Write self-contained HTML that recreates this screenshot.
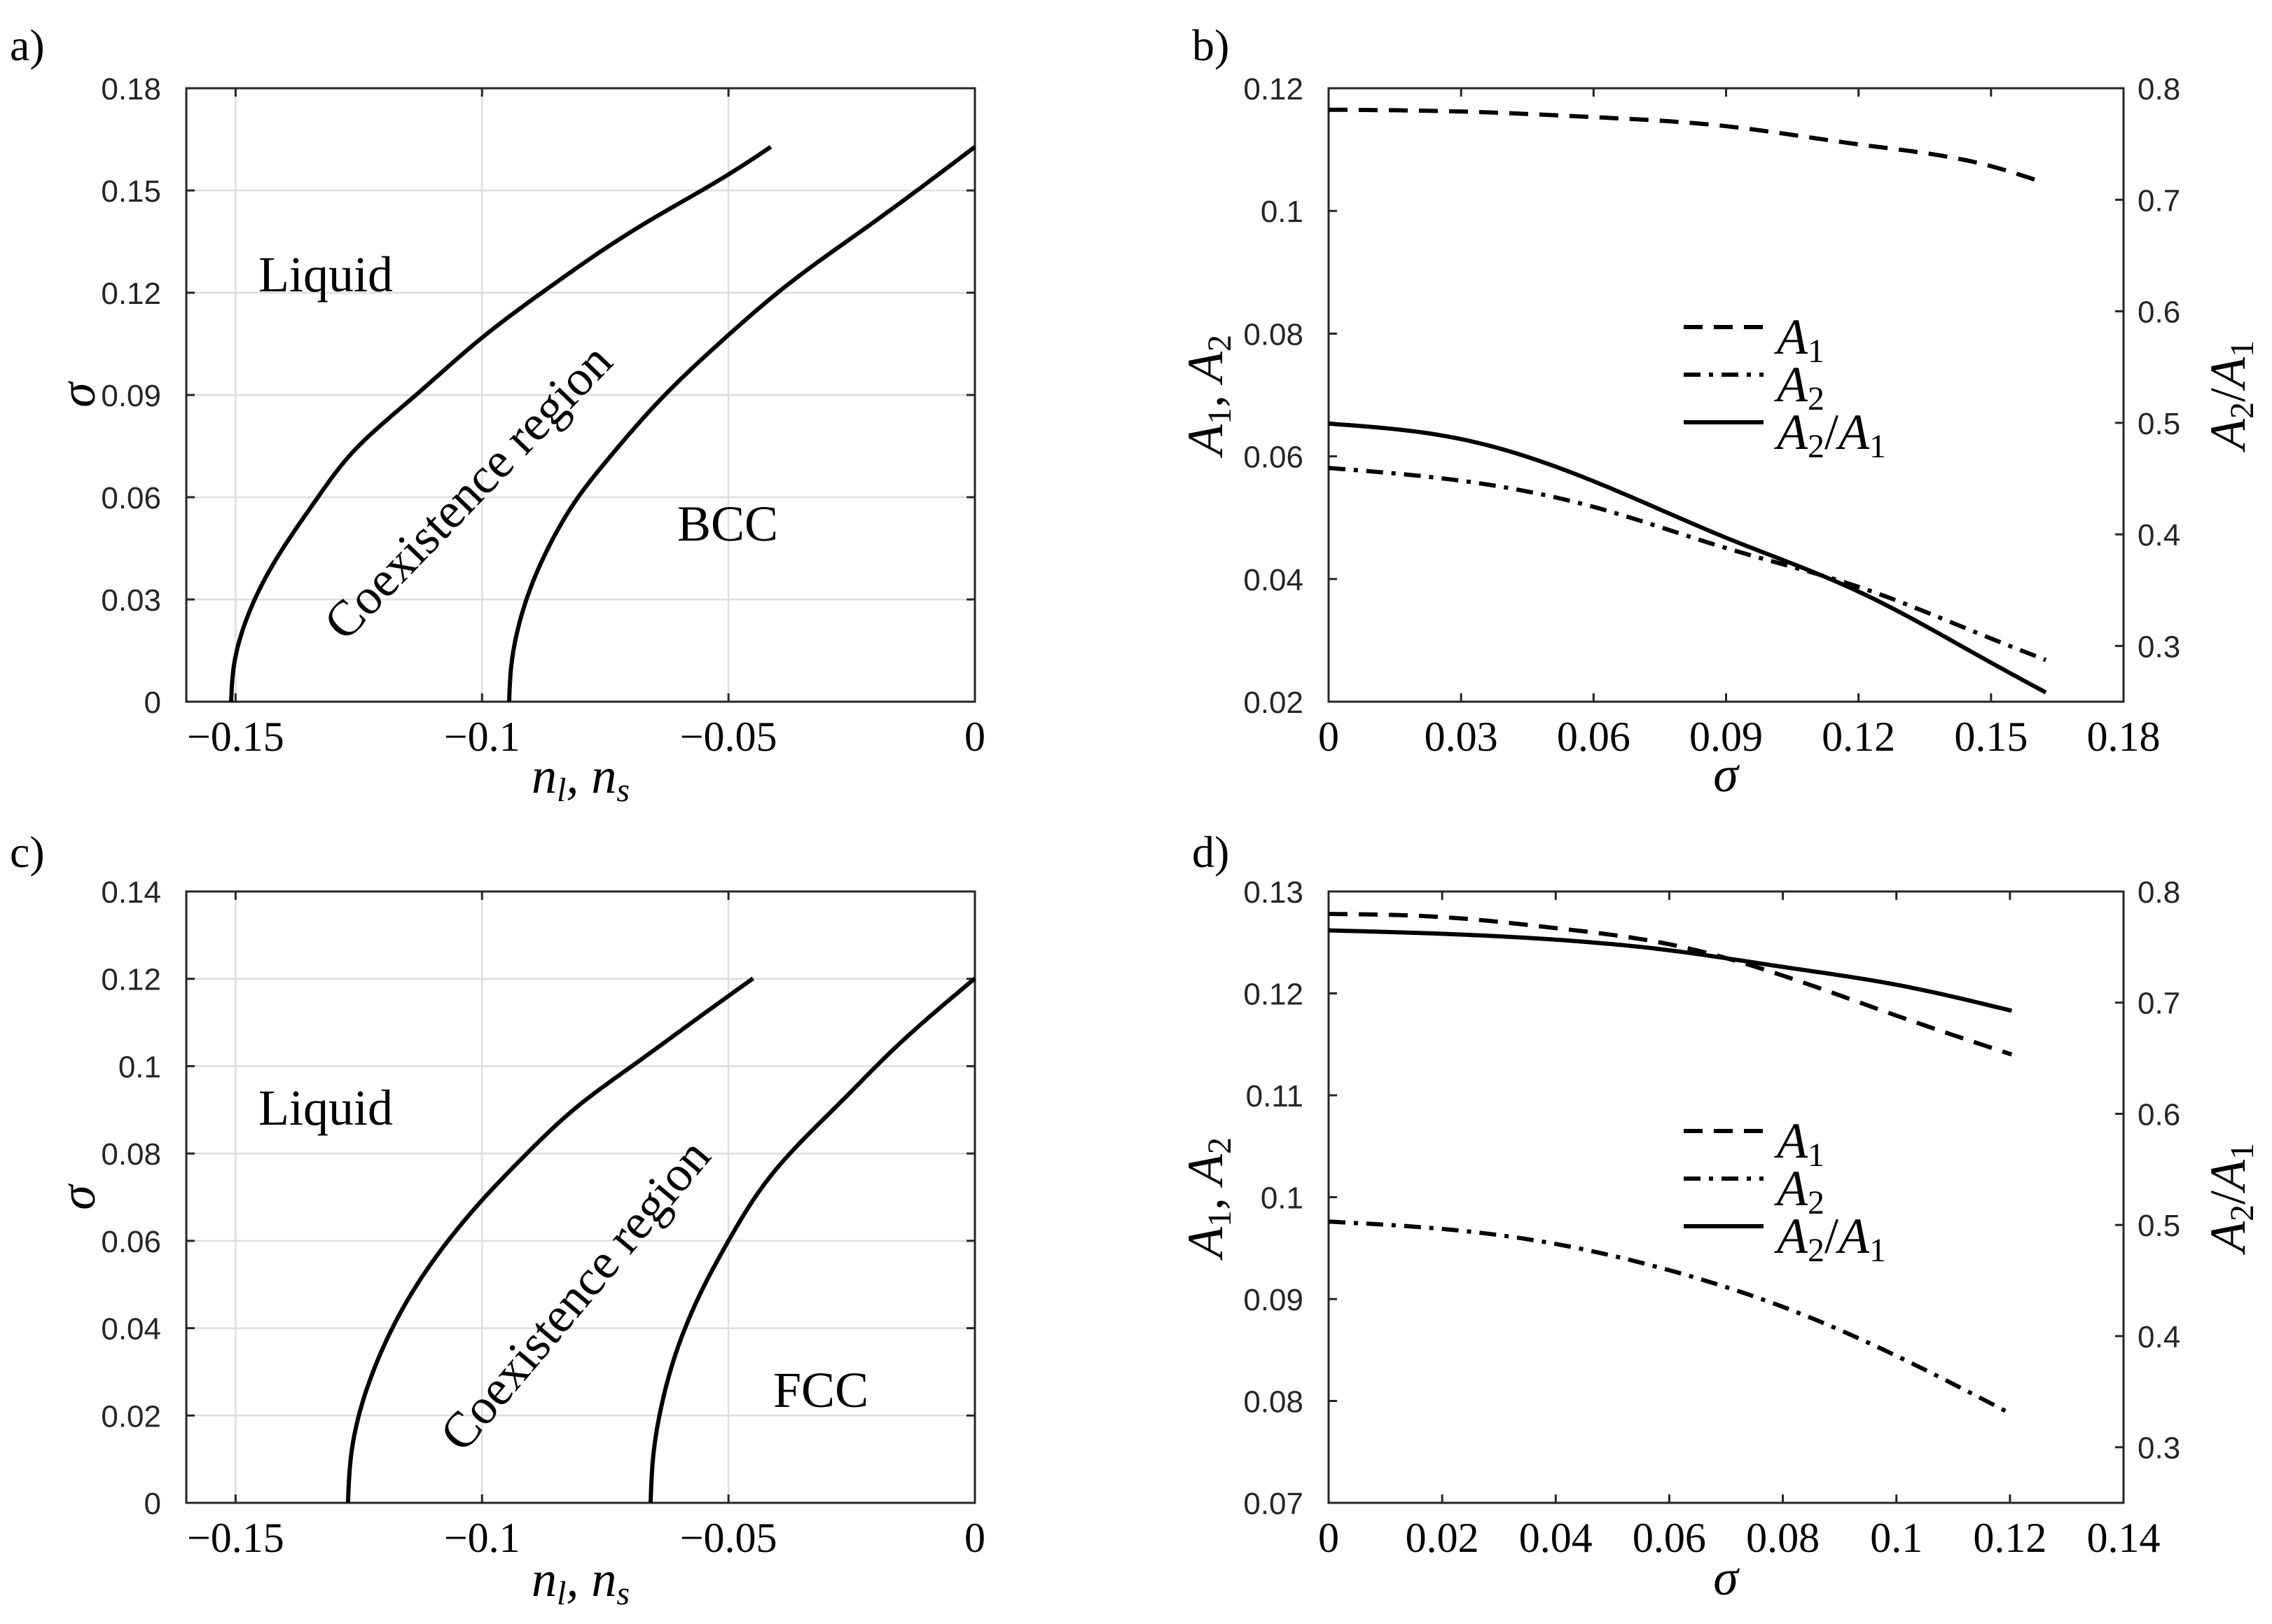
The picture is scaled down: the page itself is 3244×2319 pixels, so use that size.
<!DOCTYPE html>
<html><head><meta charset="utf-8"><style>
body{margin:0;background:#fff}
svg{display:block}
.tk{font-family:"Liberation Sans",sans-serif;font-size:44px;fill:#262626}
.sr{font-family:"Liberation Serif",serif;fill:#000}
</style></head><body>
<svg id="fig" width="3244" height="2319" viewBox="0 0 3244 2319" xmlns="http://www.w3.org/2000/svg"></svg>
<script>
// Panel a data
const aLiqX=[-0.1509,-0.1504,-0.1486,-0.1419,-0.1333,-0.126,-0.1134,-0.1,-0.0844,-0.0676,-0.05,-0.0414];
const aLiqY=[0,0.01,0.0209,0.0415,0.06,0.0736,0.09,0.1068,0.1236,0.1398,0.1547,0.1628];
const aSolX=[-0.0945,-0.0941,-0.0928,-0.0898,-0.0854,-0.0805,-0.0742,-0.0629,-0.05,-0.0368,-0.0214,0];
const aSolY=[0,0.01,0.0209,0.0347,0.0484,0.06,0.0716,0.09,0.1076,0.1237,0.1398,0.1628];
// Panel c data
const cLiqX=[-0.1272,-0.1265,-0.125,-0.1217,-0.1182,-0.1134,-0.1069,-0.1,-0.0909,-0.0795,-0.0696,-0.055,-0.045];
const cLiqY=[0,0.0114,0.02,0.0312,0.04,0.0496,0.06,0.0693,0.08,0.0918,0.1,0.112,0.1201];
const cSolX=[-0.0658,-0.0652,-0.064,-0.0606,-0.0544,-0.05,-0.0407,-0.0265,-0.0162,0];
const cSolY=[0,0.0114,0.02,0.0345,0.0509,0.06,0.0759,0.0926,0.1042,0.1201];
// Panel b data
const bSig=[0,0.0302,0.0598,0.0902,0.1205,0.150,0.1616];
const bA1=[0.1165,0.1162,0.1153,0.1138,0.1108,0.1073,0.1047];
const bSig2=[0,0.0302,0.0598,0.0902,0.1205,0.150,0.1624];
const bA2=[0.0581,0.0560,0.0518,0.045,0.0386,0.0303,0.0268];
const bRatio=[0.4993,0.4853,0.448,0.3967,0.3478,0.285,0.2583];
// Panel d data
const dSig=[0,0.0197,0.0401,0.0602,0.0797,0.1001,0.1203];
const dA1=[0.1278,0.1275,0.1264,0.1248,0.1218,0.1178,0.1140];
const dA2=[0.0976,0.0969,0.0954,0.0928,0.0893,0.0844,0.0787];
const dRatio=[0.765,0.762,0.7566,0.747,0.7324,0.716,0.6927];
// ticks
const phaseXTicks=[-0.15,-0.1,-0.05,0];
const phaseXLabels=["\u22120.15","\u22120.1","\u22120.05","0"];
const aYTicks=[0,0.03,0.06,0.09,0.12,0.15,0.18];
const aYLabels=["0","0.03","0.06","0.09","0.12","0.15","0.18"];
const cYTicks=[0,0.02,0.04,0.06,0.08,0.1,0.12,0.14];
const cYLabels=["0","0.02","0.04","0.06","0.08","0.1","0.12","0.14"];
const bXTicks=[0,0.03,0.06,0.09,0.12,0.15,0.18];
const bXLabels=["0","0.03","0.06","0.09","0.12","0.15","0.18"];
const bYTicks=[0.02,0.04,0.06,0.08,0.1,0.12];
const bYLabels=["0.02","0.04","0.06","0.08","0.1","0.12"];
const bRTicks=[0.3,0.4,0.5,0.6,0.7,0.8];
const bRLabels=["0.3","0.4","0.5","0.6","0.7","0.8"];
const dXTicks=[0,0.02,0.04,0.06,0.08,0.1,0.12,0.14];
const dXLabels=["0","0.02","0.04","0.06","0.08","0.1","0.12","0.14"];
const dYTicks=[0.07,0.08,0.09,0.1,0.11,0.12,0.13];
const dYLabels=["0.07","0.08","0.09","0.1","0.11","0.12","0.13"];
const dRTicks=[0.3,0.4,0.5,0.6,0.7,0.8];
const dRLabels=["0.3","0.4","0.5","0.6","0.7","0.8"];

const NS="http://www.w3.org/2000/svg";
const svg=document.getElementById('fig');
function mk(tag,attrs,parent,text){const e=document.createElementNS(NS,tag);for(const k in attrs)e.setAttribute(k,attrs[k]);if(text!==undefined)e.textContent=text;(parent||svg).appendChild(e);return e;}
function scale(d0,d1,p0,p1){return v=>p0+(v-d0)/(d1-d0)*(p1-p0);}
// natural cubic spline
function spline(ts,vs){
  const n=ts.length,h=[],al=[],l=[1],mu=[0],z=[0],c=new Array(n).fill(0),b=[],d=[];
  for(let i=0;i<n-1;i++)h.push(ts[i+1]-ts[i]);
  for(let i=1;i<n-1;i++)al[i]=3/h[i]*(vs[i+1]-vs[i])-3/h[i-1]*(vs[i]-vs[i-1]);
  for(let i=1;i<n-1;i++){l[i]=2*(ts[i+1]-ts[i-1])-h[i-1]*mu[i-1];mu[i]=h[i]/l[i];z[i]=(al[i]-h[i-1]*z[i-1])/l[i];}
  for(let j=n-2;j>=1;j--){c[j]=z[j]-mu[j]*c[j+1];}
  for(let j=0;j<n-1;j++){b[j]=(vs[j+1]-vs[j])/h[j]-h[j]*(c[j+1]+2*c[j])/3;d[j]=(c[j+1]-c[j])/(3*h[j]);}
  return t=>{let j=0;while(j<n-2&&t>ts[j+1])j++;const u=t-ts[j];return vs[j]+b[j]*u+c[j]*u*u+d[j]*u*u*u;};
}

function panel(o){
  const g=mk('g',{});
  
  
  const X=scale(o.xd[0],o.xd[1],o.L,o.R), Y=scale(o.yd[0],o.yd[1],o.B,o.T);
  const Y2=o.rd?scale(o.rd[0],o.rd[1],o.B,o.T):null;
  if(o.grid){
    o.xt.forEach(v=>{const l=mk('line',{x1:X(v),x2:X(v),y1:o.T,y2:o.B,stroke:'#dedede','stroke-width':2.5},g);});
    o.yt.forEach(v=>{const l=mk('line',{x1:o.L,x2:o.R,y1:Y(v),y2:Y(v),stroke:'#dedede','stroke-width':2.5},g);});
  }
  const ax=mk('rect',{x:o.L,y:o.T,width:o.R-o.L,height:o.B-o.T,fill:'none',stroke:'#262626','stroke-width':3},g);
  
  o.xt.forEach((v,i)=>{
    mk('line',{x1:X(v),x2:X(v),y1:o.B,y2:o.B-12,stroke:'#262626','stroke-width':3},g);
    mk('line',{x1:X(v),x2:X(v),y1:o.T,y2:o.T+12,stroke:'#262626','stroke-width':3},g);
    const t=mk('text',{x:X(v),y:o.B+70,'text-anchor':'middle','font-size':60,class:'sr'},g,o.xl[i]);
    
  });
  o.yt.forEach((v,i)=>{
    mk('line',{x1:o.L,x2:o.L+12,y1:Y(v),y2:Y(v),stroke:'#262626','stroke-width':3},g);
    if(!o.rd) mk('line',{x1:o.R,x2:o.R-12,y1:Y(v),y2:Y(v),stroke:'#262626','stroke-width':3},g);
    const t=mk('text',{x:o.L-36,y:Y(v)+16,'text-anchor':'end',class:'tk'},g,o.yl[i]);
    
  });
  if(o.rd){o.rt.forEach((v,i)=>{
    mk('line',{x1:o.R,x2:o.R-12,y1:Y2(v),y2:Y2(v),stroke:'#262626','stroke-width':3},g);
    const t=mk('text',{x:o.R+20,y:Y2(v)+16,'text-anchor':'start',class:'tk'},g,o.rl[i]);
    
  });}
  o.series.forEach(s=>{
    const sc=s.right?Y2:Y;
    const N=120, pts=[];
    if(s.byY){
      const f=spline(s.y,s.x), y0=s.y[0], y1=s.y[s.y.length-1];
      for(let k=0;k<=N;k++){const yy=y0+(y1-y0)*k/N;pts.push([X(f(yy)),sc(yy)]);}
    } else {
      const f=spline(s.x,s.y), x0=s.x[0], x1=s.x[s.x.length-1];
      for(let k=0;k<=N;k++){const xx=x0+(x1-x0)*k/N;pts.push([X(xx),sc(f(xx))]);}
    }
    const d='M'+pts.map(p=>p[0].toFixed(1)+','+p[1].toFixed(1)).join(' L');
    const a={d:d,fill:'none',stroke:'#000','stroke-width':6,'stroke-linejoin':'round'};
    if(s.dash)a['stroke-dasharray']=s.dash;
    const p=mk('path',a,g);
    
    
  });
  return g;
}
function txt(x,y,str,size,name,extra){const t=mk('text',Object.assign({x:x,y:y,'font-size':size,class:'sr'},extra||{}),svg);t.innerHTML=str;return t;}

const DASH='27 16', DD='24 12 6 12';
panel({name:'panel-a',L:266,R:1392,T:126,B:1002,xd:[-0.16,0],yd:[0,0.18],grid:true,xt:phaseXTicks,xl:phaseXLabels,yt:aYTicks,yl:aYLabels,
 series:[{name:'liquid-boundary-curve',x:aLiqX,y:aLiqY,byY:true},{name:'bcc-boundary-curve',x:aSolX,y:aSolY,byY:true}]});
panel({name:'panel-c',L:266,R:1392,T:1273,B:2146,xd:[-0.16,0],yd:[0,0.14],grid:true,xt:phaseXTicks,xl:phaseXLabels,yt:cYTicks,yl:cYLabels,
 series:[{name:'liquid-boundary-curve',x:cLiqX,y:cLiqY,byY:true},{name:'fcc-boundary-curve',x:cSolX,y:cSolY,byY:true}]});
panel({name:'panel-b',L:1897,R:3032,T:126,B:1002,xd:[0,0.18],yd:[0.02,0.12],rd:[0.25,0.8],xt:bXTicks,xl:bXLabels,yt:bYTicks,yl:bYLabels,rt:bRTicks,rl:bRLabels,
 series:[{name:'a1-curve',x:bSig,y:bA1,dash:DASH},{name:'a2-curve',x:bSig2,y:bA2,dash:DD},{name:'ratio-curve',x:bSig2,y:bRatio,right:true}]});
panel({name:'panel-d',L:1897,R:3032,T:1273,B:2146,xd:[0,0.14],yd:[0.07,0.13],rd:[0.25,0.8],xt:dXTicks,xl:dXLabels,yt:dYTicks,yl:dYLabels,rt:dRTicks,rl:dRLabels,
 series:[{name:'a1-curve',x:dSig,y:dA1,dash:DASH},{name:'a2-curve',x:dSig,y:dA2,dash:DD},{name:'ratio-curve',x:dSig,y:dRatio,right:true}]});

// panel letters
txt(14,86,'a)',64,'panel-label-a');txt(1702,86,'b)',64,'panel-label-b');
txt(14,1238,'c)',64,'panel-label-c');txt(1702,1238,'d)',64,'panel-label-d');
// region labels
txt(369,416,'Liquid',72,'liquid-region-label');
txt(967,772,'BCC',72,'bcc-region-label');
txt(668,726,'Coexistence region',72,'coexistence-region-label',{'text-anchor':'middle',transform:'rotate(-46 668 702)'});
txt(369,1606,'Liquid',72,'liquid-region-label');
txt(1104,2009,'FCC',72,'fcc-region-label');
txt(821,1873,'Coexistence region',72,'coexistence-region-label',{'text-anchor':'middle',transform:'rotate(-50 821 1849)'});
// axis titles
const italic={'font-style':'italic','text-anchor':'middle'};
txt(829,1132,'n<tspan font-size="48" dy="12">l</tspan><tspan dy="-12">, n</tspan><tspan font-size="48" dy="12">s</tspan>',72,'x-axis-title',italic);
txt(829,2279,'n<tspan font-size="48" dy="12">l</tspan><tspan dy="-12">, n</tspan><tspan font-size="48" dy="12">s</tspan>',72,'x-axis-title',italic);
txt(2464,1130,'σ',72,'x-axis-title',italic);
txt(2464,2277,'σ',72,'x-axis-title',italic);
txt(135,564,'σ',72,'y-axis-title',Object.assign({transform:'rotate(-90 135 564)'},italic));
txt(135,1710,'σ',72,'y-axis-title',Object.assign({transform:'rotate(-90 135 1710)'},italic));
const a12='A<tspan font-size="48" dy="12" font-style="normal">1</tspan><tspan dy="-12" font-style="normal">, </tspan>A<tspan font-size="48" dy="12" font-style="normal">2</tspan>';
const r21='A<tspan font-size="48" dy="12" font-style="normal">2</tspan><tspan dy="-12" font-style="normal">/</tspan>A<tspan font-size="48" dy="12" font-style="normal">1</tspan>';
txt(1745,564,a12,72,'left-y-axis-title',Object.assign({transform:'rotate(-90 1745 564)'},italic));
txt(1745,1710,a12,72,'left-y-axis-title',Object.assign({transform:'rotate(-90 1745 1710)'},italic));
txt(3205,564,r21,72,'right-y-axis-title',Object.assign({transform:'rotate(-90 3205 564)'},italic));
txt(3205,1710,r21,72,'right-y-axis-title',Object.assign({transform:'rotate(-90 3205 1710)'},italic));
// legends
function legend(y0,name){
  const g=mk('g',{});
  const rows=[[DASH,'A<tspan font-size="48" dy="12" font-style="normal">1</tspan>'],[DD,'A<tspan font-size="48" dy="12" font-style="normal">2</tspan>'],[null,r21]];
  rows.forEach((r,i)=>{
    const y=y0+i*68;
    const a={x1:2404,x2:2518,y1:y,y2:y,stroke:'#000','stroke-width':6};if(r[0])a['stroke-dasharray']=r[0];
    const l=mk('line',a,g);
    const t=mk('text',{x:2537,y:y+38,'font-size':72,class:'sr','font-style':'italic'},g);t.innerHTML=r[1];
    
  });
}
legend(467,'legend-b');legend(1615,'legend-d');
</script>
</body></html>
